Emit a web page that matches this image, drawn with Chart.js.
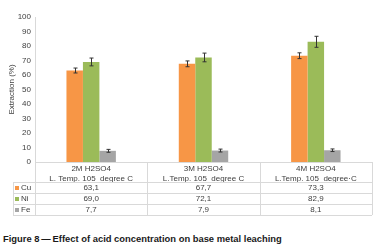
<!DOCTYPE html>
<html lang="en">
<head>
<meta charset="utf-8"/>
<title>Effect of acid concentration</title>
<script src="https://cdn.jsdelivr.net/npm/chart.js"></script>
<style>
  body { margin: 0; background: #fff; font-family: "Liberation Sans", Arial, sans-serif; }
  #wrap { position: relative; width: 383px; height: 250px; }
  #box { position: absolute; left: 0; top: 0; width: 383px; height: 220px; }
  #caption { position: absolute; left: 3px; top: 233px; font-size: 9.4px; font-weight: bold; color: #1a1a1a; white-space: nowrap; }
</style>
</head>
<body>
<div id="wrap">
<div id="box"><canvas id="chart"></canvas></div>
<div id="caption">Figure 8&#8201;—&#8201;Effect of acid concentration on base metal leaching</div>
</div>
<script>
  const categories = [
    ['2M H2SO4', 'L. Temp. 105  degree C'],
    ['3M H2SO4', 'L.Temp. 105  degree C'],
    ['4M H2SO4', 'L.Temp. 105  degree·C']
  ];
  const seriesNames = ['Cu', 'Ni', 'Fe'];
  const cuValues = [63.1, 67.7, 73.3];
  const niValues = [69.0, 72.1, 82.9];
  const feValues = [7.7, 7.9, 8.1];
  const cuErrors = [1.7, 2.0, 2.0];
  const niErrors = [2.7, 3.0, 3.8];
  const feErrors = [1.0, 1.0, 0.9];
  const tableText = [
    ['63,1', '67,7', '73,3'],
    ['69,0', '72,1', '82,9'],
    ['7,7', '7,9', '8,1']
  ];
  const yTicks = [0, 10, 20, 30, 40, 50, 60, 70, 80, 90, 100];
  const colors = ['#F79646', '#9BBB59', '#A5A5A5'];

  const lineColor = '#d9d9d9';
  const textColor = '#404040';
  const family = '"Liberation Sans", Arial, sans-serif';
  const font = '8px ' + family;

  // error bars drawn over each bar
  const errorBars = {
    id: 'errorBars',
    afterDatasetsDraw(chart) {
      const ctx = chart.ctx;
      const y = chart.scales.y;
      ctx.save();
      ctx.strokeStyle = '#333';
      ctx.lineWidth = 1;
      chart.data.datasets.forEach((ds, i) => {
        chart.getDatasetMeta(i).data.forEach((bar, j) => {
          const v = ds.data[j], e = ds.errors[j];
          const x = Math.round(bar.x) + 0.5;
          const top = y.getPixelForValue(v + e);
          const bot = y.getPixelForValue(v - e);
          ctx.beginPath();
          ctx.moveTo(x, top); ctx.lineTo(x, bot);
          ctx.moveTo(x - 2, top); ctx.lineTo(x + 2, top);
          ctx.moveTo(x - 2, bot); ctx.lineTo(x + 2, bot);
          ctx.stroke();
        });
      });
      ctx.restore();
    }
  };

  // data table under the x axis
  const dataTable = {
    id: 'dataTable',
    afterDraw(chart) {
      const ctx = chart.ctx;
      const area = chart.chartArea;
      const xs = chart.scales.x;
      const left = area.left, right = area.right;
      const step = (right - left) / categories.length;
      const headBottom = area.bottom + 20;
      const rowH = 11;
      const tableLeft = 13;
      const tableBottom = headBottom + rowH * seriesNames.length;
      ctx.save();
      ctx.strokeStyle = lineColor;
      ctx.lineWidth = 1;
      ctx.beginPath();
      ctx.moveTo(left, area.bottom + 0.5); ctx.lineTo(right, area.bottom + 0.5);
      for (let r = 0; r <= seriesNames.length; r++) {
        const yy = Math.round(headBottom + r * rowH) + 0.5;
        ctx.moveTo(tableLeft, yy); ctx.lineTo(right, yy);
      }
      for (let c = 0; c <= categories.length; c++) {
        const xx = Math.round(left + c * step) + 0.5;
        ctx.moveTo(xx, area.bottom); ctx.lineTo(xx, tableBottom);
      }
      ctx.moveTo(tableLeft + 0.5, headBottom); ctx.lineTo(tableLeft + 0.5, tableBottom);
      ctx.stroke();

      ctx.font = font;
      ctx.fillStyle = textColor;
      ctx.textBaseline = 'middle';
      seriesNames.forEach((name, r) => {
        const cy = headBottom + r * rowH + rowH / 2 + 0.5;
        ctx.fillStyle = colors[r];
        ctx.fillRect(tableLeft + 2, cy - 2, 4, 4);
        ctx.fillStyle = textColor;
        ctx.textAlign = 'left';
        ctx.fillText(name, tableLeft + 8, cy);
        ctx.textAlign = 'center';
        tableText[r].forEach((t, c) => {
          ctx.fillText(t, xs.getPixelForValue(c), cy);
        });
      });
      ctx.restore();
    }
  };

  new Chart(document.getElementById('chart'), {
    type: 'bar',
    data: {
      labels: categories,
      datasets: [
        { label: seriesNames[0], data: cuValues, errors: cuErrors, backgroundColor: colors[0] },
        { label: seriesNames[1], data: niValues, errors: niErrors, backgroundColor: colors[1] },
        { label: seriesNames[2], data: feValues, errors: feErrors, backgroundColor: colors[2] }
      ]
    },
    options: {
      responsive: true,
      maintainAspectRatio: false,
      animation: false,
      layout: { padding: { left: 7, right: 11, top: 17, bottom: 37 } },
      datasets: { bar: { categoryPercentage: 0.44, barPercentage: 1 } },
      plugins: { legend: { display: false }, tooltip: { enabled: false } },
      scales: {
        x: {
          grid: { display: false, drawTicks: false },
          border: { display: false },
          ticks: { color: textColor, font: { size: 8, family: family }, padding: 2, maxRotation: 0 },
          afterFit(s) { s.height = 21; }
        },
        y: {
          min: 0, max: 100,
          afterBuildTicks(s) { s.ticks = yTicks.map(v => ({ value: v })); },
          grid: { display: false, drawTicks: false },
          border: { color: lineColor },
          ticks: { color: textColor, font: { size: 8, family: family }, padding: 4 },
          title: { display: true, text: 'Extraction (%)', color: textColor, font: { size: 8, family: family }, padding: 0 },
          afterFit(s) { s.width = 28; }
        }
      }
    },
    plugins: [errorBars, dataTable]
  });
</script>
</body>
</html>
